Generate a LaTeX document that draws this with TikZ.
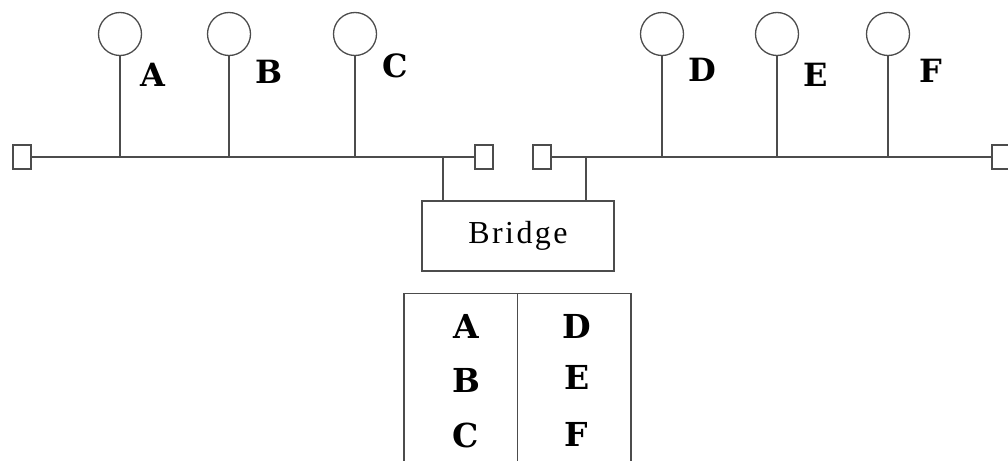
\documentclass[tikz,border=0pt]{standalone}
\usepackage{fontspec}
\newfontfamily\lblfont{DejaVu Serif}
\newfontfamily\brfont{Liberation Serif}
\newcommand{\spl}{\kern2.4pt}
\begin{document}
\begin{tikzpicture}[x=1pt,y=-1pt,
  line/.style={draw=black!70, line width=1.3pt},
  station/.style={circle, draw=black!70, line width=1.3pt, minimum size=43pt, inner sep=0pt},
  term/.style={rectangle, draw=black!70, line width=1.3pt, minimum width=18pt, minimum height=24pt, inner sep=0pt},
  box/.style={rectangle, draw=black!70, line width=1.3pt, inner sep=0pt},
  lbl/.style={inner sep=0pt, font=\lblfont\fontsize{32}{40}\selectfont\bfseries},
  tlbl/.style={inner sep=0pt, font=\lblfont\fontsize{33}{40}\selectfont\bfseries}]
\useasboundingbox (0,0) rectangle (1008,460);

% terminators and buses
\node[term] (t1) at (22,157) {};
\node[term] (t2) at (484,157) {};
\node[term] (t3) at (542,157) {};
\node[term] (t4) at (1001,157) {};
\draw[line] (t1) -- (t2);
\draw[line] (t3) -- (t4);

% stations
\foreach \n/\x in {A/120,B/229,C/355,D/662,E/777,F/888}{
  \node[station] (c\n) at (\x,34) {};
  \coordinate (b\n) at (\x,157);
  \draw[line] (c\n) -- (b\n);
}

% station labels
\node[lbl] (lA) at (153,74.5) {A};
\node[lbl] (lB) at (269.5,72) {B};
\node[lbl] (lC) at (395,66) {C};
\node[lbl] (lD) at (702.5,70) {D};
\node[lbl] (lE) at (816,74.5) {E};
\node[lbl] (lF) at (931,71) {F};

% bridge
\node[box, minimum width=192pt, minimum height=70pt, font=\brfont\fontsize{32}{36}\selectfont] (br) at (518,236) {B\spl r\spl i\spl d\spl g\spl e};
\coordinate (j1) at (443,157);
\coordinate (j2) at (586,157);
\draw[line] (j1) -- (j1 |- br.north);
\draw[line] (j2) -- (j2 |- br.north);

% table
\node[box, minimum width=227pt, minimum height=200pt, anchor=north] (tab) at (517.5,293) {};
\draw[line] (tab.north) -- (tab.south);
\node[tlbl] (rA) at (466,326) {A};
\node[tlbl] (rB) at (466,380) {B};
\node[tlbl] (rC) at (466,435.5) {C};
\node[tlbl] (rD) at (577,326) {D};
\node[tlbl] (rE) at (577,377.5) {E};
\node[tlbl] (rF) at (576,434) {F};
\end{tikzpicture}
\end{document}
